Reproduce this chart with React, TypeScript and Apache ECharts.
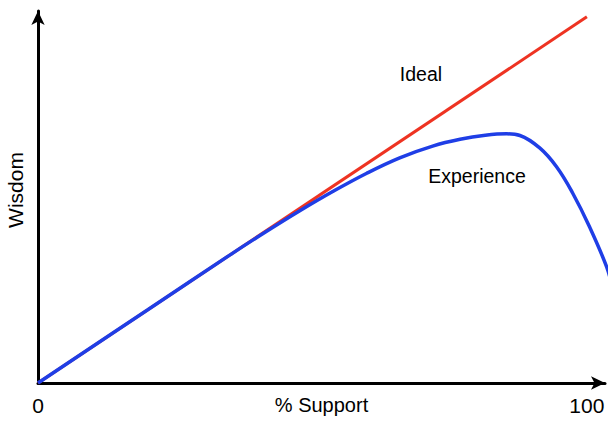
import React, { useEffect, useRef } from "react";
import * as echarts from "echarts";

const idealX = [0, 100];
const idealY = [0, 100];

const experienceX = [0, 20, 35, 41.3, 47.7, 53.7, 59.9, 65.9, 71.9, 76.9, 81.5, 85.4, 87.8, 91.4, 94.5, 97.4, 100.5, 103.6, 104.6];
const experienceY = [0, 20, 35, 41.1, 47.05, 52.3, 57.3, 61.5, 64.7, 66.55, 67.65, 68.05, 67.6, 64.2, 59.0, 51.9, 42.6, 31.7, 26.2];

const xTickLabels = [0, 100];

const FONT = "'Liberation Sans', Arial, Helvetica, sans-serif";

export default function App() {
  const ref = useRef<HTMLDivElement>(null);
  useEffect(() => {
    const chart = echarts.init(ref.current!, null, { renderer: "svg" });
    chart.setOption({
      animation: false,
      grid: { left: 38, right: 11, top: 11, bottom: 40, containLabel: false, outerBoundsMode: "none" },
      xAxis: {
        type: "value",
        min: 0,
        max: 103.3,
        name: "% Support",
        nameLocation: "middle",
        nameGap: 12,
        nameMoveOverlap: false,
        nameTextStyle: { color: "#000", fontSize: 20, fontFamily: FONT, verticalAlign: "top" },
        axisLine: {
          show: true,
          symbol: ["none", "arrow"],
          symbolSize: [10, 14],
          lineStyle: { color: "#000", width: 3 },
        },
        axisTick: { show: false },
        splitLine: { show: false },
        axisLabel: {
          customValues: xTickLabels,
          color: "#000",
          fontSize: 21,
          fontFamily: FONT,
          margin: 12,
          formatter: (v: number) => String(v),
        },
      },
      yAxis: {
        type: "value",
        min: 0,
        max: 101.6,
        name: "Wisdom",
        nameLocation: "middle",
        nameGap: 12,
        nameRotate: 90,
        nameMoveOverlap: false,
        nameTextStyle: { color: "#000", fontSize: 21, fontFamily: FONT, padding: [0, 0, 0, 14] },
        axisLine: {
          show: true,
          symbol: ["none", "arrow"],
          symbolSize: [10, 14],
          lineStyle: { color: "#000", width: 3 },
        },
        axisTick: { show: false },
        splitLine: { show: false },
        axisLabel: { show: false },
      },
      series: [
        {
          type: "line",
          name: "Ideal",
          data: idealX.map((x, i) => [x, idealY[i]]),
          showSymbol: false,
          lineStyle: { color: "#ee3322", width: 3 },
          z: 2,
        },
        {
          type: "line",
          name: "Experience",
          data: experienceX.map((x, i) => [x, experienceY[i]]),
          showSymbol: false,
          smooth: 0.4,
          clip: false,
          lineStyle: { color: "#1f3ee6", width: 3.5 },
          z: 3,
        },
      ],
      graphic: [
        {
          type: "text",
          x: 421,
          y: 74,
          style: { text: "Ideal", fill: "#000", fontSize: 19.5, fontFamily: FONT, align: "center", verticalAlign: "middle" },
        },
        {
          type: "text",
          x: 477,
          y: 176,
          style: { text: "Experience", fill: "#000", fontSize: 19.5, fontFamily: FONT, align: "center", verticalAlign: "middle" },
        },
      ],
    });
    return () => chart.dispose();
  }, []);
  return <div ref={ref} style={{ width: 616, height: 423, position: "absolute", left: 0, top: 0 }} />;
}
